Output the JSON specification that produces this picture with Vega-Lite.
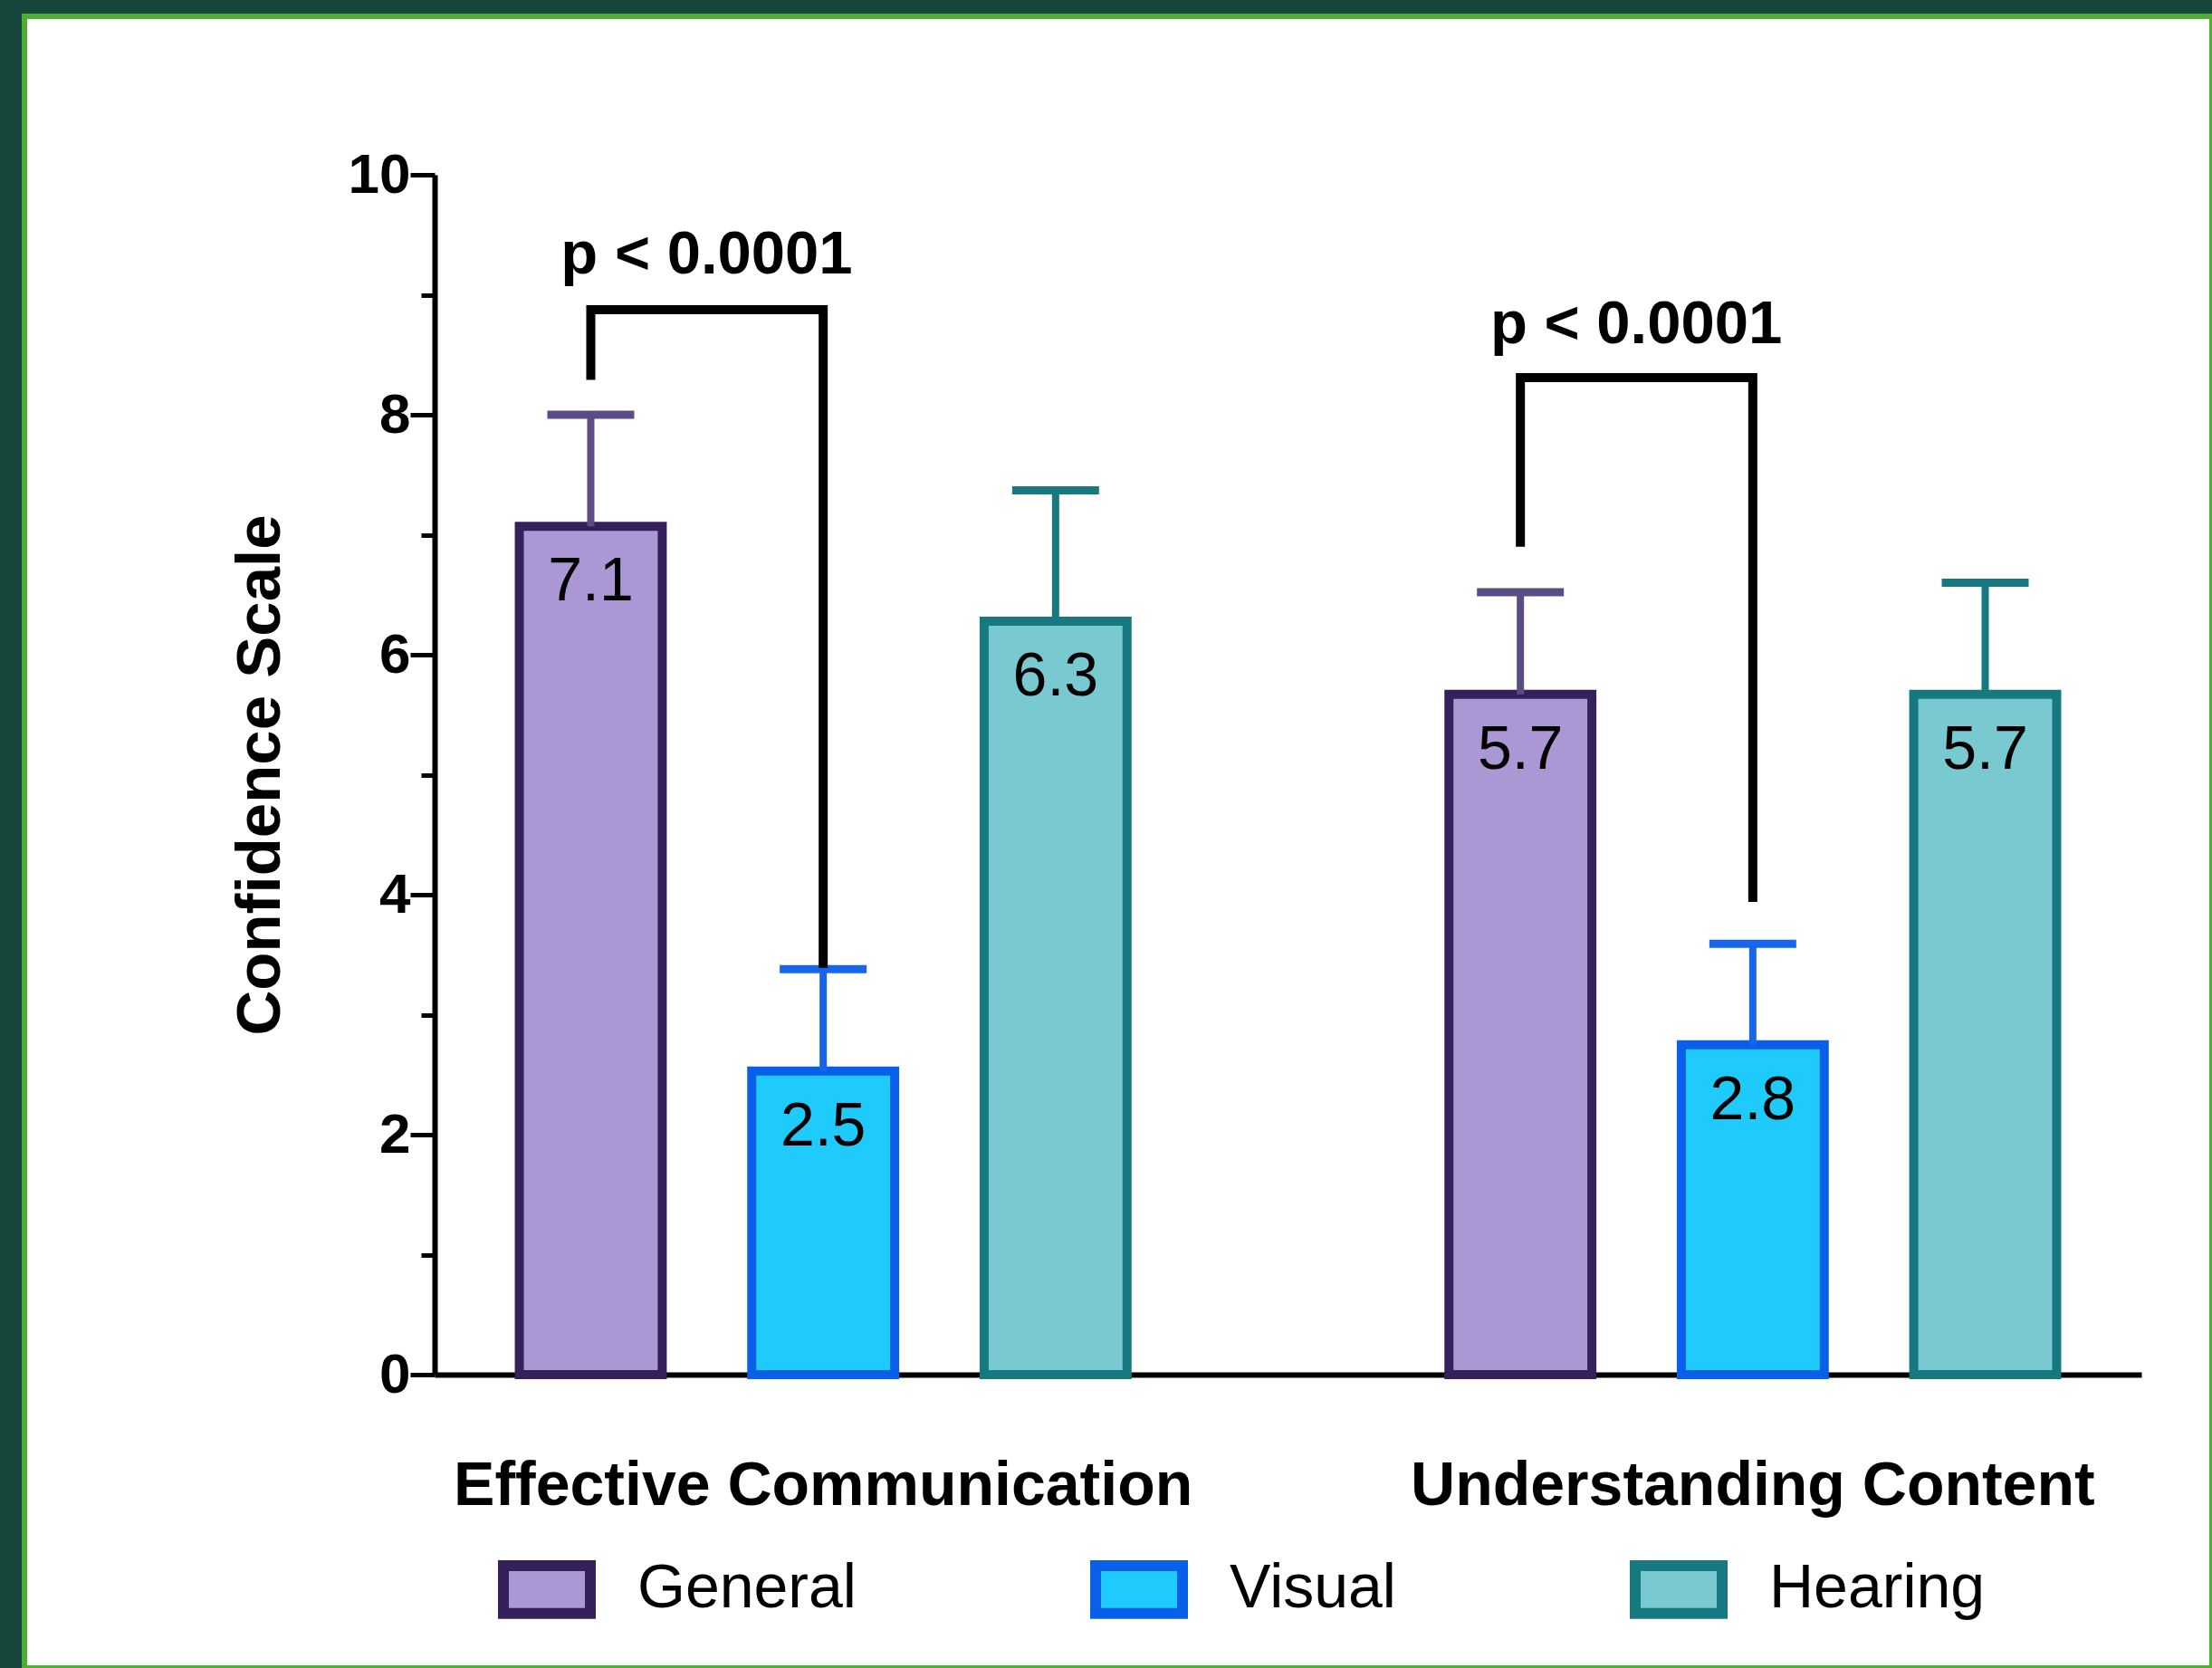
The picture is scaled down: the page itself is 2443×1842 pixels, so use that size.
{
  "$schema": "https://vega.github.io/schema/vega-lite/v6.json",
  "width": 2416,
  "height": 1824,
  "autosize": {"type": "none"},
  "padding": {"left": 27, "top": 18, "right": 0, "bottom": 0},
  "background": "#17463A",
  "config": {
    "view": {"fill": "white", "stroke": "#4CAF32", "strokeWidth": 6},
    "font": "Liberation Sans, Arial"
  },
  "datasets": {
    "bars": [
      {"group": "Effective Communication", "type": "General", "mean": 7.07, "upper": 8.0},
      {"group": "Effective Communication", "type": "Visual", "mean": 2.53, "upper": 3.38},
      {"group": "Effective Communication", "type": "Hearing", "mean": 6.28, "upper": 7.37},
      {"group": "Understanding Content", "type": "General", "mean": 5.67, "upper": 6.52},
      {"group": "Understanding Content", "type": "Visual", "mean": 2.75, "upper": 3.59},
      {"group": "Understanding Content", "type": "Hearing", "mean": 5.67, "upper": 6.6}
    ],
    "brackets": [
      {"group": "Effective Communication", "type": "General", "y": 8.29, "step": 1},
      {"group": "Effective Communication", "type": "General", "y": 8.875, "step": 2},
      {"group": "Effective Communication", "type": "Visual", "y": 8.875, "step": 3},
      {"group": "Effective Communication", "type": "Visual", "y": 3.39, "step": 4},
      {"group": "Understanding Content", "type": "General", "y": 6.9, "step": 1},
      {"group": "Understanding Content", "type": "General", "y": 8.31, "step": 2},
      {"group": "Understanding Content", "type": "Visual", "y": 8.31, "step": 3},
      {"group": "Understanding Content", "type": "Visual", "y": 3.94, "step": 4}
    ],
    "pvals": [
      {"group": "Effective Communication", "type": "General", "y": 9.18, "label": "p < 0.0001"},
      {"group": "Understanding Content", "type": "General", "y": 8.6, "label": "p < 0.0001"}
    ]
  },
  "encoding": {
    "x": {
      "field": "group",
      "type": "nominal",
      "sort": ["Effective Communication", "Understanding Content"],
      "scale": {"range": [453, 2338], "paddingInner": 0.25, "paddingOuter": 0.043},
      "axis": {
        "title": null,
        "orient": "bottom",
        "offset": -324,
        "ticks": false,
        "tickSize": 0,
        "domainColor": "black",
        "domainWidth": 6,
        "labelAngle": 0,
        "labelFontSize": 68,
        "labelFontWeight": "bold",
        "labelColor": "black",
        "labelPadding": 89,
        "labelLimit": 2000
      }
    },
    "xOffset": {
      "field": "type",
      "type": "nominal",
      "sort": ["General", "Visual", "Hearing"],
      "scale": {"paddingInner": 0.385, "paddingOuter": 0.1925}
    }
  },
  "layer": [
    {
      "data": {"name": "bars"},
      "mark": {"type": "bar", "strokeWidth": 10, "opacity": 1},
      "encoding": {
        "y": {
          "field": "mean",
          "type": "quantitative",
          "scale": {"domain": [0, 10], "range": [1500, 175], "nice": false, "zero": true},
          "axis": {
            "title": "Confidence Scale",
            "orient": "left",
            "offset": -453,
            "values": [0, 1, 2, 3, 4, 5, 6, 7, 8, 9, 10],
            "format": "d",
            "labelExpr": "datum.value % 2 === 0 ? datum.label : ''",
            "grid": false,
            "labelOverlap": false,
            "labelFlush": false,
            "domainColor": "black",
            "domainWidth": 6,
            "tickColor": "black",
            "tickWidth": 5,
            "tickSize": {"condition": {"test": "datum.value % 2 === 1", "value": 15}, "value": 27},
            "labelFontSize": 62,
            "labelFontWeight": "bold",
            "labelColor": "black",
            "labelPadding": 0,
            "titleFontSize": 69,
            "titleFontWeight": "bold",
            "titleColor": "black",
            "titlePadding": 62
          }
        },
        "fill": {
          "field": "type",
          "type": "nominal",
          "scale": {"domain": ["General", "Visual", "Hearing"], "range": ["#AA97D4", "#1FCBFD", "#78C9D0"]},
          "legend": {
            "title": null,
            "orient": "none",
            "legendX": 523,
            "legendY": 1683,
            "direction": "horizontal",
            "symbolType": "M-1,-0.55L1,-0.55L1,0.55L-1,0.55Z",
            "symbolSize": 9216,
            "symbolStrokeWidth": 12,
            "symbolOpacity": 1,
            "labelFontSize": 68,
            "labelColor": "black",
            "labelOffset": 46,
            "columnPadding": 240,
            "labelLimit": 1000
          }
        },
        "stroke": {
          "field": "type",
          "type": "nominal",
          "scale": {"domain": ["General", "Visual", "Hearing"], "range": ["#36205B", "#0A5FE8", "#167981"]},
          "legend": {
            "title": null,
            "orient": "none",
            "legendX": 523,
            "legendY": 1683,
            "direction": "horizontal",
            "symbolType": "M-1,-0.55L1,-0.55L1,0.55L-1,0.55Z",
            "symbolSize": 9216,
            "symbolStrokeWidth": 12,
            "symbolOpacity": 1,
            "labelFontSize": 68,
            "labelColor": "black",
            "labelOffset": 46,
            "columnPadding": 240,
            "labelLimit": 1000
          }
        }
      }
    },
    {
      "data": {"name": "bars"},
      "mark": {"type": "rule", "strokeWidth": 8},
      "encoding": {
        "y": {"field": "mean", "type": "quantitative"},
        "y2": {"field": "upper"},
        "color": {
          "field": "type",
          "type": "nominal",
          "scale": {"domain": ["General", "Visual", "Hearing"], "range": ["#5C4C86", "#1766EA", "#167981"]},
          "legend": null
        }
      }
    },
    {
      "data": {"name": "bars"},
      "mark": {"type": "tick", "size": 96, "thickness": 9, "opacity": 1},
      "encoding": {
        "y": {"field": "upper", "type": "quantitative"},
        "color": {"field": "type", "type": "nominal", "legend": null}
      }
    },
    {
      "data": {"name": "bars"},
      "mark": {"type": "text", "baseline": "alphabetic", "align": "center", "dy": 82, "fontSize": 68, "color": "black"},
      "encoding": {
        "y": {"field": "mean", "type": "quantitative"},
        "text": {"field": "mean", "type": "quantitative", "format": ".1f"}
      }
    },
    {
      "data": {"name": "brackets"},
      "mark": {"type": "line", "color": "black", "strokeWidth": 10, "strokeJoin": "miter"},
      "encoding": {
        "y": {"field": "y", "type": "quantitative"},
        "detail": {"field": "group"},
        "order": {"field": "step", "type": "quantitative"}
      }
    },
    {
      "data": {"name": "pvals"},
      "mark": {"type": "text", "baseline": "alphabetic", "align": "center", "dx": 128, "fontSize": 67, "fontWeight": "bold", "color": "black"},
      "encoding": {
        "y": {"field": "y", "type": "quantitative"},
        "text": {"field": "label"}
      }
    }
  ]
}
